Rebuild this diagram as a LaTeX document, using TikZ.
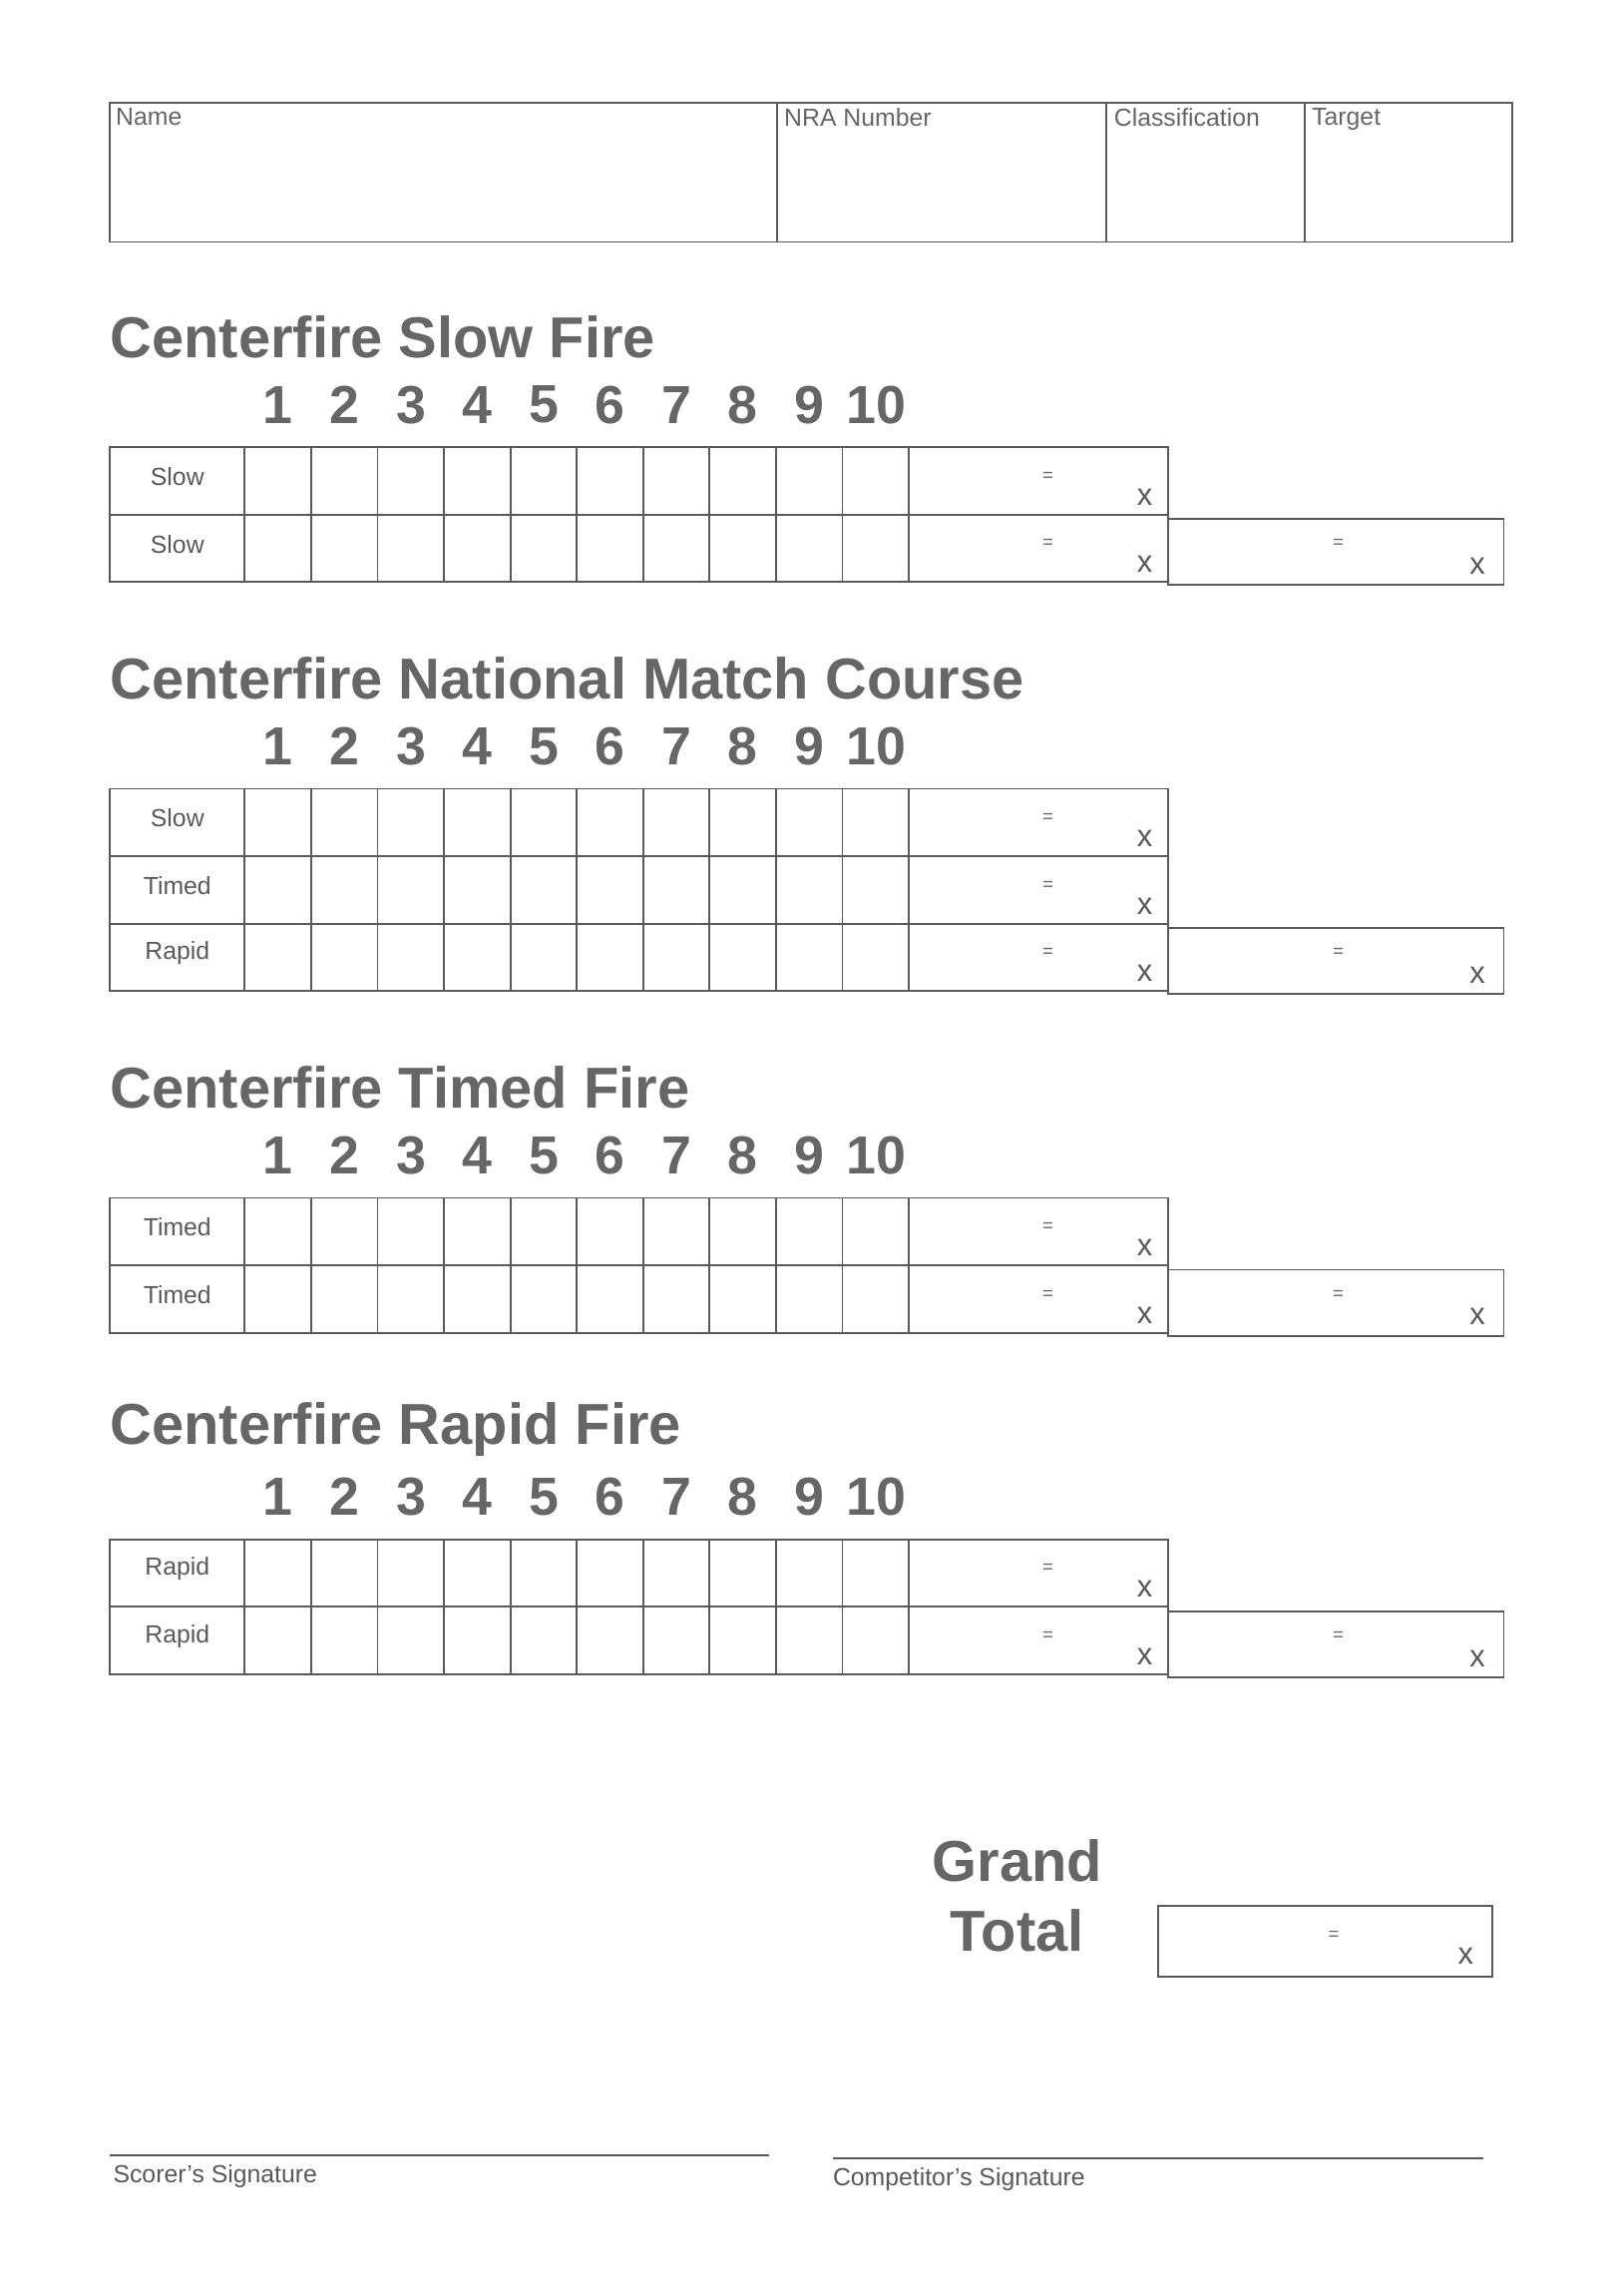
\documentclass[tikz,border=0pt]{standalone}
\usepackage{fontspec}
\setmainfont{Liberation Sans}
\usepackage{tikz}
\definecolor{inkgray}{gray}{0.35}
\definecolor{titlegray}{gray}{0.4}
\tikzset{
  grid/.style={draw=inkgray, line width=0.9pt},
  rowlab/.style={font=\fontsize{12}{14}\selectfont, text=inkgray},
  headlab/.style={font=\fontsize{12}{14}\selectfont, text=titlegray, anchor=north west, inner sep=2pt},
  eqsign/.style={font=\fontsize{9}{10}\selectfont, text=titlegray},
  xmark/.style={font=\fontsize{15}{16}\selectfont, text=inkgray},
  firetitle/.style={font=\bfseries\fontsize{28}{30}\selectfont, text=titlegray, anchor=west, inner sep=0pt},
  shotnum/.style={font=\bfseries\fontsize{26}{28}\selectfont, text=titlegray, inner sep=0pt},
}
% #1 title, #2 title y, #3 rows label/top y, #4 top y of the last row
\newcommand{\firesection}[4]{%
  \node[firetitle] (title#2) at (75,#2) {#1};
  \foreach \n in {1,...,9}
    \node[shotnum] (num#2n\n) at (144.5+45.3*\n,#2+46) {\n};
  \node[shotnum] (num#2n10) at (598,#2+46) {10};
  \foreach \lab/\yt in {#3} {
    \draw[grid] (75,\yt) rectangle (167,\yt+46);
    \node[rowlab] at (121,\yt+20) {\lab};
    \foreach \c in {0,...,9}
      \draw[grid] (167+45.3*\c,\yt) rectangle ++(45.3,46);
    \draw[grid] (620,\yt) rectangle (797,\yt+46);
    \node[eqsign] at (715,\yt+20) {=};
    \node[xmark] at (781,\yt+34) {x};
  }
  \draw[grid] (797,#4+3) rectangle (1026,#4+48);
  \node[eqsign] at (913,#4+20) {=};
  \node[xmark] at (1008,#4+35) {x};
}
\begin{document}
\begin{tikzpicture}[x=0.025cm, y=-0.025cm]
\useasboundingbox[fill=white] (0,0) rectangle (1100,1566);

% header
\draw[grid] (75,70) rectangle (1032,165);
\foreach \xd in {530,755,890}
  \draw[grid] (\xd,70) -- (\xd,165);
\node[headlab] (name) at (76,71) {Name};
\node[headlab] (nra) at (532,71) {NRA Number};
\node[headlab] (class) at (757,71) {Classification};
\node[headlab] (target) at (892,71) {Target};

% sections
\firesection{Centerfire Slow Fire}{230}{Slow/305,Slow/351}{351}
\firesection{Centerfire National Match Course}{463}{Slow/538,Timed/584,Rapid/630}{630}
\firesection{Centerfire Timed Fire}{742}{Timed/817,Timed/863}{863}
\firesection{Centerfire Rapid Fire}{975}{Rapid/1050,Rapid/1096}{1096}

% grand total
\node[firetitle, anchor=center, align=center, font=\bfseries\fontsize{28}{34}\selectfont] (grand) at (694,1293) {Grand\\Total};
\draw[grid] (790,1300) rectangle (1018,1348);
\node[eqsign] at (910,1320) {=};
\node[xmark] at (1000,1334) {x};

% signatures
\draw[grid] (75,1470) -- (525,1470);
\draw[grid] (568,1472) -- (1012,1472);
\node[rowlab, anchor=north west, inner sep=0pt] (scorer) at (77,1476) {Scorer's Signature};
\node[rowlab, anchor=north west, inner sep=0pt] (competitor) at (568,1478) {Competitor's Signature};
\end{tikzpicture}
\end{document}
